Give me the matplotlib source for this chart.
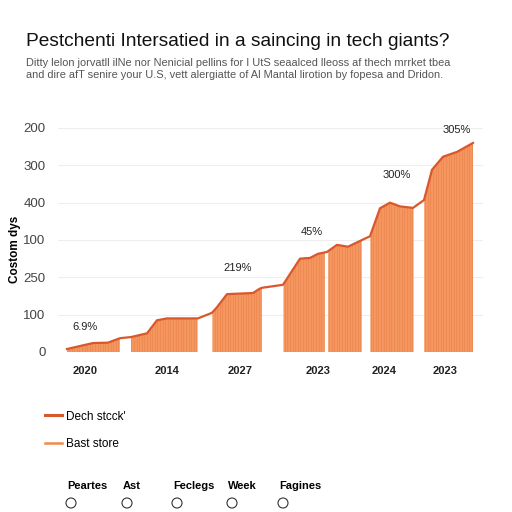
import numpy as np
import matplotlib.pyplot as plt
from matplotlib.lines import Line2D

# values (x in axis units, y in grid steps)
x_pts = [9, 22, 35, 50, 62, 73, 89, 99, 109, 140, 154, 159, 169, 195, 202, 204,
         225, 242, 252, 260, 269, 279, 290, 304, 312, 322, 332, 342, 355, 366,
         374, 385, 399, 415]
y_pts = [0.08, 0.16, 0.24, 0.25, 0.37, 0.40, 0.50, 0.85, 0.90, 0.90, 1.05, 1.20,
         1.55, 1.58, 1.70, 1.72, 1.80, 2.50, 2.52, 2.63, 2.68, 2.87, 2.82, 3.00,
         3.10, 3.85, 4.00, 3.90, 3.86, 4.07, 4.88, 5.23, 5.36, 5.60]
gaps = [(62, 73), (140, 154), (204, 225), (267, 270), (304, 312), (356, 366)]

ytick_labels = ["0", "100", "250", "100", "400", "300", "200"]
xtick_pos = [27, 109, 182, 260, 326, 387]
xtick_labels = ["2020", "2014", "2027", "2023", "2024", "2023"]

notes = ["6.9%", "219%", "45%", "300%", "305%"]
note_pos = [(27, 0.68), (180, 2.25), (254, 3.22), (339, 4.75), (399, 5.95)]

legend_names = ["Dech stcck'", "Bast store"]
bottom_names = ["Peartes", "Ast", "Feclegs", "Week", "Fagines"]

line_c = "#d9582b"
fill_c = "#f5965e"
hatch_c = "#ea8550"

plt.rcParams['font.family'] = ['Liberation Sans', 'DejaVu Sans']
fig = plt.figure(figsize=(5.12, 5.12), dpi=100)

fig.text(26/512, 1 - 42/512, "Pestchenti Intersatied in a saincing in tech giants?",
         fontsize=13.8, va='center', ha='left', color='#111111')
fig.text(26/512, 1 - 63/512,
         "Ditty lelon jorvatll ilNe nor Nenicial pellins for I UtS seaalced lleoss af thech mrrket tbea",
         fontsize=7.9, va='center', ha='left', color='#555555')
fig.text(26/512, 1 - 75.5/512,
         "and dire afT senire your U.S, vett alergiatte of Al Mantal lirotion by fopesa and Dridon.",
         fontsize=7.9, va='center', ha='left', color='#555555')

ax = fig.add_axes([58/512, 1 - 352/512, 425/512, 224/512])
ax.set_xlim(0, 425)
ax.set_ylim(0, 6)

xs = np.linspace(x_pts[0], x_pts[-1], 800)
ys = np.interp(xs, x_pts, y_pts)
mask = np.ones_like(xs, dtype=bool)
for a, b in gaps:
    mask &= ~((xs > a) & (xs < b))
ax.fill_between(xs, 0, ys, where=mask, color=fill_c, lw=0, interpolate=False)
# vertical stripes inside the fill
for xv in np.arange(x_pts[0] + 2, x_pts[-1], 2.6):
    if any(a < xv < b for a, b in gaps):
        continue
    ax.plot([xv, xv], [0, np.interp(xv, x_pts, y_pts)], color=hatch_c, lw=0.45)
ax.plot(x_pts, y_pts, color=line_c, lw=1.6)

ax.set_yticks(range(7))
ax.set_yticklabels(ytick_labels, fontsize=9.5, color='#444444')
ax.set_xticks(xtick_pos)
ax.set_xticklabels(xtick_labels, fontsize=8, fontweight='bold', color='#222222')
ax.tick_params(length=0, pad=10)
ax.tick_params(axis='y', pad=9)
ax.grid(axis='y', color='#eeeeee', lw=0.8)
ax.set_axisbelow(True)
for s in ax.spines.values():
    s.set_visible(False)
ax.set_ylabel("Costom dys", fontsize=8.5, fontweight='bold', labelpad=0)
ax.yaxis.set_label_coords(-37/425, 0.46)

for t, (px, py) in zip(notes, note_pos):
    ax.text(px, py, t, fontsize=8, ha='center', va='center', color='#222222')

# legend
handles = [Line2D([], [], color=line_c, lw=2.2), Line2D([], [], color='#f08a4b', lw=1.8)]
fig.legend(handles, legend_names, loc='upper left', bbox_to_anchor=(34/512, 1 - 400/512),
           frameon=False, fontsize=8.5, handlelength=1.5, labelspacing=1.3, handletextpad=0.3)

# bottom option row
bx = [67, 123, 173, 228, 279]
for name, x0 in zip(bottom_names, bx):
    fig.text(x0/512, 1 - 486/512, name, fontsize=8, fontweight='bold', va='center', ha='left')
    fig.patches.append(plt.Circle((x0/512 + 4/512, 1 - 503/512), 5/512, transform=fig.transFigure,
                                  fill=False, ec='#333333', lw=0.8))

fig.savefig("out.png", dpi=100)
